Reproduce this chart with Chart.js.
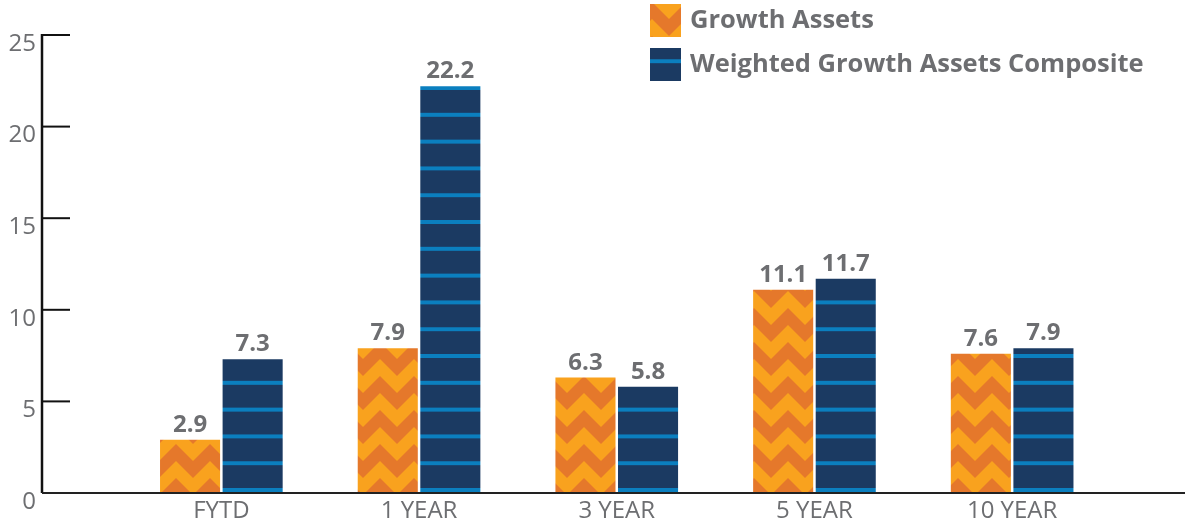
<!DOCTYPE html>
<html lang="en">
<head>
    <meta charset="UTF-8">
    <title>Growth Assets</title>
    <style>
        * { box-sizing: border-box; margin: 0; padding: 0; }
        html, body { width: 1185px; height: 527px; background: #fff; overflow: hidden; }
        #wrap { position: relative; width: 1185px; height: 527px; }
    </style>
</head>
<body>
    <div id="wrap">
        <canvas id="chartCanvasId"></canvas>
    </div>

    <script src="https://cdn.jsdelivr.net/npm/chart.js@4.4.1/dist/chart.umd.min.js"></script>
    <script>
        "use strict";

        const categories        = ["FYTD", "1 YEAR", "3 YEAR", "5 YEAR", "10 YEAR"]
        const seriesNames       = ["Growth Assets", "Weighted Growth Assets Composite"]
        const growthAssets      = [2.9, 7.9, 6.3, 11.1, 7.6]
        const weightedComposite = [7.3, 22.2, 5.8, 11.7, 7.9]
        const yTicks            = [0, 5, 10, 15, 20, 25]

        const grey = "#6d6e71"

        // orange chevron fill
        function chevronPattern() {
            const c = document.createElement("canvas")
            c.width = 34
            c.height = 34
            const g = c.getContext("2d")
            g.fillStyle = "#f9a21e"
            g.fillRect(0, 0, 34, 34)
            g.fillStyle = "#e5782b"
            for (const off of [-34, 0, 34]) {
                g.beginPath()
                g.moveTo(0, off + 0)
                g.lineTo(17, off + 17)
                g.lineTo(34, off + 0)
                g.lineTo(34, off + 17)
                g.lineTo(17, off + 34)
                g.lineTo(0, off + 17)
                g.closePath()
                g.fill()
            }
            const p = g.createPattern(c, "repeat")
            p.setTransform(new DOMMatrix([1, 0, 0, 1, 6, 2]))
            return p
        }

        // navy fill with light blue horizontal stripes
        function stripePattern() {
            const c = document.createElement("canvas")
            c.width = 20
            c.height = 27
            const g = c.getContext("2d")
            g.fillStyle = "#1b3a62"
            g.fillRect(0, 0, 20, 27)
            g.fillStyle = "#0b7fbf"
            g.fillRect(0, 0, 20, 4)
            const p = g.createPattern(c, "repeat")
            p.setTransform(new DOMMatrix([1, 0, 0, 26.8 / 27, 0, 5.6]))
            return p
        }

        // y axis drawn at the far left, outside the bar area
        const axesPlugin = {
            id: "axes",
            afterDatasetsDraw(chart) {
                const ctx = chart.ctx
                const y = chart.scales.y
                const x0 = 42
                ctx.save()
                ctx.strokeStyle = "#111"
                ctx.lineWidth = 2.5
                ctx.beginPath()
                ctx.moveTo(x0, y.getPixelForValue(25) - 1)
                ctx.lineTo(x0, y.getPixelForValue(0))
                ctx.stroke()

                ctx.lineWidth = 2
                ctx.font = "24px 'Open Sans'"
                ctx.fillStyle = grey
                ctx.textAlign = "right"
                ctx.textBaseline = "middle"
                yTicks.forEach(v => {
                    const py = y.getPixelForValue(v)
                    ctx.beginPath()
                    ctx.moveTo(x0, py)
                    ctx.lineTo(x0 + 28, py)
                    ctx.stroke()
                    ctx.fillText(String(v), 36, py + 9)
                })

                ctx.strokeStyle = "#222"
                ctx.lineWidth = 2
                ctx.beginPath()
                ctx.moveTo(x0, y.getPixelForValue(0))
                ctx.lineTo(chart.width, y.getPixelForValue(0))
                ctx.stroke()
                ctx.restore()
            }
        }

        const labelsPlugin = {
            id: "barLabels",
            afterDatasetsDraw(chart) {
                const ctx = chart.ctx
                ctx.save()
                ctx.font = "bold 24px 'Open Sans'"
                ctx.fillStyle = grey
                ctx.textAlign = "center"
                ctx.textBaseline = "alphabetic"
                chart.data.datasets.forEach((ds, i) => {
                    chart.getDatasetMeta(i).data.forEach((el, j) => {
                        ctx.fillText(ds.data[j].toFixed(1), el.x, el.y - 8)
                    })
                })
                ctx.restore()
            }
        }

        const legendPlugin = {
            id: "sideLegend",
            afterDraw(chart) {
                const ctx = chart.ctx
                ctx.save()
                ctx.font = "bold 25.5px 'Open Sans'"
                ctx.fillStyle = grey
                ctx.textBaseline = "middle"
                chart.data.datasets.forEach((ds, i) => {
                    const top = 4 + i * 44
                    ctx.fillStyle = ds.backgroundColor
                    ctx.fillRect(650, top, 31, 33)
                    ctx.fillStyle = grey
                    ctx.fillText(ds.label, 690, top + 17)
                })
                ctx.restore()
            }
        }

        const chartCanvas = document.getElementById("chartCanvasId")
        const myChart = new Chart(chartCanvas.getContext("2d"), {
            type: "bar",
            data: {
                labels: categories,
                datasets: [{
                    label: seriesNames[0],
                    data: growthAssets,
                    backgroundColor: chevronPattern(),
                    borderWidth: 0
                }, {
                    label: seriesNames[1],
                    data: weightedComposite,
                    backgroundColor: stripePattern(),
                    borderWidth: 0
                }]
            },
            options: {
                responsive: true,
                maintainAspectRatio: false,
                animation: false,
                categoryPercentage: 0.633,
                barPercentage: 0.96,
                layout: { padding: { left: 122.5, right: 74, top: 35, bottom: 0 } },
                plugins: {
                    legend: { display: false },
                    tooltip: { enabled: false }
                },
                scales: {
                    x: {
                        grid: { display: false, drawTicks: false },
                        border: { display: false },
                        ticks: {
                            color: grey,
                            font: { family: "'Open Sans'", size: 24 },
                            padding: 4,
                            maxRotation: 0
                        },
                        afterFit(scale) { scale.height = 34 }
                    },
                    y: {
                        display: false,
                        min: 0,
                        max: 25
                    }
                }
            },
            plugins: [axesPlugin, labelsPlugin, legendPlugin]
        })
    </script>
</body>
</html>
